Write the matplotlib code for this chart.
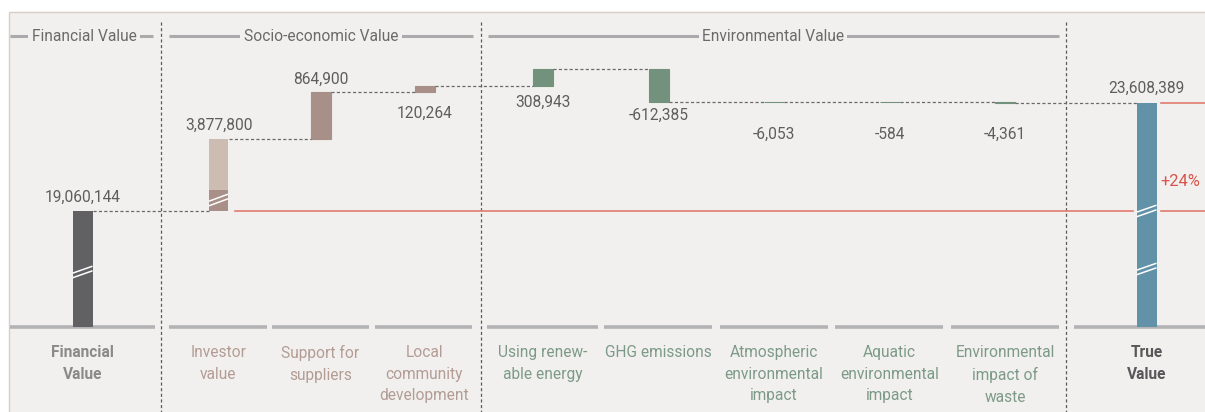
import matplotlib
matplotlib.use('Agg')
import matplotlib.pyplot as plt
import numpy as np

plt.rcParams['font.family'] = ['Roboto', 'DejaVu Sans']

# data
categories = ['Financial\nValue', 'Investor\nvalue', 'Support for\nsuppliers',
              'Local\ncommunity\ndevelopment', 'Using renew-\nable energy', 'GHG emissions',
              'Atmospheric\nenvironmental\nimpact', 'Aquatic\nenvironmental\nimpact',
              'Environmental\nimpact of\nwaste', 'True\nValue']
values = [19060144, 3877800, 864900, 120264, 308943, -612385, -6053, -584, -4361]
total = 23608389
groups = ['fin', 'socio', 'socio', 'socio', 'env', 'env', 'env', 'env', 'env', 'total']
sections = ['Financial Value', 'Socio-economic Value', 'Environmental Value']

# layout in pixels
W, H = 1205, 412
base_y = 326.5
xpos = [82.5, 218.5, 320.5, 424.5, 542.5, 658.5, 773.5, 889.5, 1005, 1146.5]
bw = 20
bg_col = '#f1f0ee'
bar_col = {'fin': '#616163', 'socio': '#a88f88', 'env': '#73927e', 'total': '#6192a8'}
txt_col = {'fin': '#8a8a8a', 'socio': '#b39c94', 'env': '#7c9a87', 'total': '#58585a'}
fs = 11.2

# broken value axis: piecewise linear map value -> pixels above baseline
lo = 116 / values[0]
hi = 53.5e-6
knot_v = [-1e8, 0, values[0], values[0] + values[1], 1e8]
knot_u = [-1e8 * lo, 0, 116, 188, 188 + (1e8 - knot_v[3]) * hi]


def fwd(v):
    return np.interp(v, knot_v, knot_u)


def inv(u):
    return np.interp(u, knot_u, knot_v)


fig = plt.figure(figsize=(W / 100, H / 100), dpi=100, facecolor='white')
bg = fig.add_axes([0, 0, 1, 1], zorder=1)
bg.set_xlim(0, W)
bg.set_ylim(H, 0)
bg.axis('off')
ax = fig.add_axes([0, 0, 1, 1], zorder=2)
ax.patch.set_alpha(0)
ax.set_xlim(0, W)
ax.set_yscale('function', functions=(fwd, inv))
ax.set_ylim(inv(base_y - H), inv(base_y))
ax.axis('off')

bg.add_patch(plt.Rectangle((9, 12), W, H, facecolor=bg_col, edgecolor='#d8cec6', lw=1))

# section headers
hdr = [(10, 153, 84), (169, 473, 321), (488, 1059, 773)]
for (a, b, c), name in zip(hdr, sections):
    bg.plot([a, b], [36, 36], color='#aaaaac', lw=2.2, solid_capstyle='butt')
    bg.text(c, 36, name, ha='center', va='center', fontsize=fs, color='#6a6a6a',
            bbox=dict(facecolor=bg_col, edgecolor='none', pad=2.5))

# baseline segments
segs = [(10, 155), (169, 267), (272, 369), (375, 472), (487, 598), (604, 712),
        (720, 828), (835, 943), (951, 1059), (1074, 1205)]
for a, b in segs:
    bg.plot([a, b], [base_y, base_y], color='#b3b3b5', lw=2.6, solid_capstyle='butt')

# separators
for x in [160.5, 481, 1066]:
    bg.plot([x, x], [22, H], color='#5a5a5a', lw=0.9, ls=(0, (2.5, 2)))

# bars
cum = [0]
for v in values:
    cum.append(cum[-1] + v)
ax.bar(xpos[0], values[0], bottom=0, width=bw, color=bar_col['fin'])
split = 20140000
ax.bar(xpos[1], split - cum[1], bottom=cum[1], width=bw - 1, color=bar_col['socio'])
ax.bar(xpos[1], cum[2] - split, bottom=split, width=bw - 1, color='#cdbcb2')
for i in range(2, len(values)):
    ax.bar(xpos[i], values[i], bottom=cum[i], width=bw, color=bar_col[groups[i]],
           edgecolor=bar_col[groups[i]], lw=0.8)
ax.bar(xpos[-1], total, bottom=0, width=bw, color=bar_col['total'])

# connectors
levels = cum[1:]
for i in range(len(values)):
    ax.plot([xpos[i] + bw / 2, xpos[i + 1] - bw / 2], [levels[i], levels[i]],
            color='#6a6a6a', lw=0.9, ls=(0, (2.5, 1.8)))

# red reference lines
ax.plot([235, 1133], [values[0], values[0]], color='#e07b6e', lw=1.2)
ax.plot([1161, W], [values[0], values[0]], color='#e07b6e', lw=1.2)
ax.plot([1161, W], [total, total], color='#e07b6e', lw=1.2)
bg.text(1160, 181, '+%d%%' % round((total / values[0] - 1) * 100), ha='left', va='center',
        fontsize=11.8, color='#d9534a')

# break marks
def brk(xc, yc, w):
    for d in (-2.3, 2.3):
        ax.plot([xc - w / 2, xc + w / 2], [yc + 3.5 + d, yc - 3.5 + d], color='white',
                lw=1.1, transform=bg.transData, zorder=5, solid_capstyle='butt')

brk(xpos[0], 272, bw)
brk(xpos[1], 200, bw - 1)
brk(xpos[-1], 211, bw)
brk(xpos[-1], 269, bw)

# value labels
all_vals = values + [total]
offs = [13, 13, 13, -21, -17, -13, -32, -32, -32, 14]
for i, v in enumerate(all_vals):
    if i == len(values):
        top, bot = total, 0
    else:
        top, bot = max(cum[i], cum[i + 1]), min(cum[i], cum[i + 1])
    anchor = top if offs[i] > 0 else bot
    ax.annotate(f'{v:,}', (xpos[i], anchor), xytext=(0, offs[i]), textcoords='offset pixels',
                ha='center', va='center', fontsize=fs, color='#5e5e5e')

# category labels
for i, lab in enumerate(categories):
    g = groups[i]
    bg.text(xpos[i], 345, lab, ha='center', va='top', fontsize=fs, color=txt_col[g],
            fontweight='bold' if g in ('fin', 'total') else 'normal', linespacing=1.55)

fig.savefig('out.png', dpi=100, facecolor='white')
